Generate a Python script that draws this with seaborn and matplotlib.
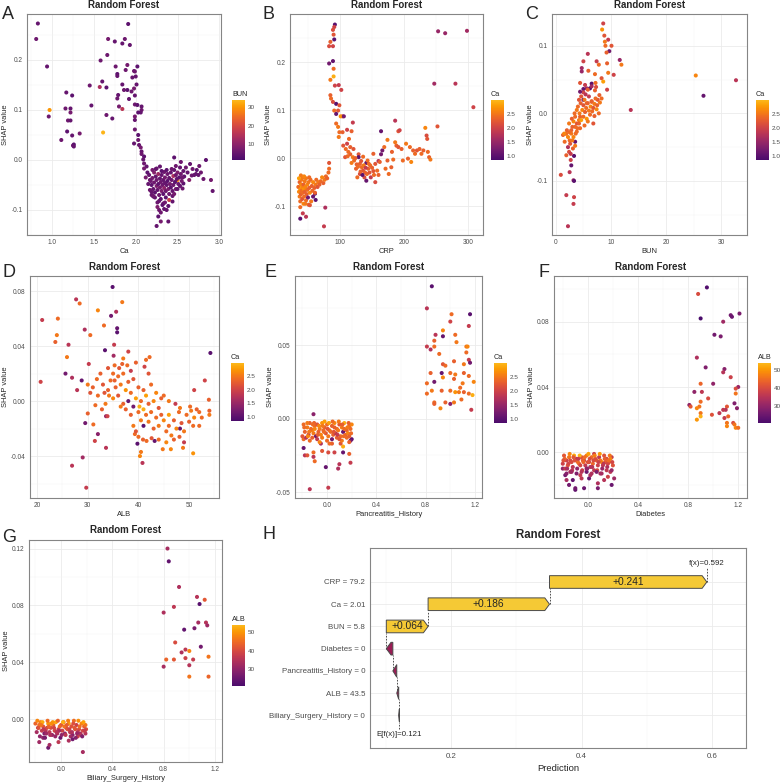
import numpy as np
import pandas as pd
import matplotlib
matplotlib.use('Agg')
import matplotlib.pyplot as plt
import seaborn as sns
from matplotlib.colors import LinearSegmentedColormap, Normalize
from matplotlib.ticker import FixedLocator, AutoMinorLocator, FormatStrFormatter
from matplotlib.patches import Polygon
from matplotlib.cm import ScalarMappable

sns.set_style('white')
plt.rcParams['font.family'] = ['Liberation Sans', 'DejaVu Sans']
plt.rcParams['axes.unicode_minus'] = False

# ---------------- Panel A : Ca vs SHAP, colour BUN ----------------
a_ca = [
0.83,0.81,0.94,0.97,0.96,1.17,1.24,1.16,1.22,1.22,
1.19,1.22,1.18,1.11,1.24,1.33,1.25,1.26,1.26,1.45,
1.47,1.58,1.57,1.60,1.65,1.61,1.65,1.72,1.67,1.66,
1.75,1.76,1.78,1.78,1.78,1.79,1.80,1.84,1.84,1.87,
1.91,1.93,1.88,1.90,1.84,1.86,1.90,1.92,1.95,1.96,
1.98,2.00,2.02,1.99,2.01,1.98,1.99,1.99,2.02,2.07,
2.07,2.06,1.99,2.03,1.99,1.99,1.98,2.03,2.03,2.04,
2.06,2.07,2.07,2.10,2.09,2.10,2.13,2.10,2.25,2.29,
2.46,2.54,2.50,2.65,2.76,2.84,2.90,2.92,2.81,2.72,
2.67,2.75,2.57,2.56,2.25,2.30,2.39,2.28,2.27,2.37,
2.33,2.44,2.21,2.17,2.19,
2.16,2.18,2.19,2.20,2.21,2.22,2.22,2.23,2.24,2.25,
2.25,2.26,2.27,2.27,2.28,2.29,2.29,2.30,2.30,2.31,
2.31,2.32,2.33,2.33,2.34,2.34,2.35,2.35,2.36,2.36,
2.37,2.38,2.38,2.39,2.40,2.40,2.41,2.42,2.42,2.43,
2.44,2.45,2.45,2.46,2.47,2.48,2.48,2.49,2.50,2.51,
2.52,2.53,2.54,2.55,2.57,2.58,2.60,2.62,2.64,2.68,
2.70,2.73,2.78,2.20,2.23,2.26,2.32,2.28,2.35,2.40,
2.44,2.17,2.14,2.12,2.19,2.21,2.24,2.37,2.43,2.50,
2.46,2.53,2.56,2.39,2.34,2.30,2.26,2.15,2.31,2.48]
a_shap = [
0.273,0.242,0.187,0.100,0.087,0.135,0.129,0.103,0.103,0.095,
0.079,0.079,0.057,0.040,0.049,0.053,0.029,0.031,0.027,0.149,
0.109,0.199,0.146,0.157,0.145,0.055,0.090,0.083,0.242,0.210,
0.237,0.187,0.172,0.168,0.123,0.130,0.107,0.102,0.233,0.242,
0.272,0.230,0.180,0.190,0.151,0.140,0.140,0.122,0.137,0.165,
0.178,0.167,0.187,0.177,0.151,0.143,0.129,0.111,0.110,0.107,
0.100,0.095,0.087,0.095,0.080,0.061,0.033,0.050,0.040,0.030,
0.025,0.017,0.012,0.007,0.001,-0.007,-0.013,-0.017,-0.017,-0.013,
0.005,-0.004,-0.040,-0.008,-0.012,0.000,-0.040,-0.062,-0.038,-0.028,
-0.031,-0.030,-0.047,-0.057,-0.132,-0.123,-0.123,-0.100,-0.113,-0.100,
-0.087,-0.083,-0.073,-0.060,-0.070,
-0.030,-0.042,-0.050,-0.036,-0.058,-0.025,-0.045,-0.065,-0.033,-0.052,
-0.040,-0.060,-0.028,-0.048,-0.070,-0.037,-0.055,-0.044,-0.078,-0.030,
-0.062,-0.050,-0.040,-0.068,-0.024,-0.056,-0.046,-0.035,-0.075,-0.062,
-0.050,-0.028,-0.042,-0.058,-0.036,-0.068,-0.048,-0.025,-0.055,-0.040,
-0.062,-0.032,-0.050,-0.020,-0.044,-0.058,-0.030,-0.038,-0.025,-0.048,
-0.035,-0.015,-0.028,-0.042,-0.022,-0.033,-0.015,-0.025,-0.040,-0.018,
-0.030,-0.020,-0.025,-0.020,-0.075,-0.085,-0.090,-0.082,-0.085,-0.080,
-0.072,-0.040,-0.025,-0.035,-0.064,-0.072,-0.018,-0.020,-0.018,-0.058,
-0.068,-0.052,-0.035,-0.092,-0.098,-0.105,-0.094,-0.048,-0.022,-0.012]
a_bun = [
5,6,5,30,6,5,4,6,5,7,
6,5,4,6,5,7,6,4,5,6,
5,6,14,5,4,33,6,5,7,6,
5,6,4,5,6,5,7,16,5,6,
4,5,6,7,5,6,4,5,6,5,
6,5,4,6,5,7,5,6,4,5,
6,5,7,4,5,6,5,4,6,5,
7,5,6,4,5,6,5,7,6,5,
4,6,28,5,6,4,7,5,6,5,
6,5,4,6,5,7,5,6,4,5,
6,5,4,6,5,
5,6,4,7,5,9,6,4,5,8,
6,5,12,4,6,5,7,6,4,5,
8,6,5,4,6,10,5,7,4,6,
5,6,4,8,5,6,7,5,4,6,
5,14,6,5,4,7,6,5,8,6,
4,5,6,7,5,4,6,5,9,6,
5,4,6,7,5,6,4,5,6,18,
5,6,4,7,5,6,5,4,6,5,
7,5,6,4,5,6,8,5,4,6]

# ---------------- Panel B : CRP vs SHAP, colour Ca ----------------
b_crp = [
38,42,47,51,61,62,77,75,83,83,
92,91,89,90,91,85,83,89,89,83,
90,90,85,92,98,102,85,86,89,94,
99,91,97,94,104,101,106,94,97,99,
104,98,111,118,120,114,105,111,109,116,
121,136,129,129,131,134,136,141,144,142,
138,141,147,152,155,155,158,160,164,164,
162,166,169,174,174,176,180,183,186,188,
191,193,198,203,206,209,211,214,217,220,
224,227,230,233,235,236,237,239,241,252,
247,253,264,280,298,308,160,171,152,126,
122,120,116,113,108,125,131,127,181,186,
191,196,128,133,137,139,143,146,148,135,
132,140,145,150,153,124,118,112,
35,36,37,37,38,38,39,39,40,40,
41,41,42,42,43,43,44,44,45,45,
46,47,47,48,49,49,50,51,52,53,
54,55,56,57,58,60,62,63,65,66,
68,70,72,74,76,78,80,82,36,39,
44,52,58,61,46,53,38]
b_shap = [
-0.126,-0.115,-0.122,-0.097,-0.074,-0.087,-0.103,-0.142,-0.010,-0.022,
0.278,0.273,0.267,0.257,0.247,0.242,0.233,0.233,0.202,0.197,
0.186,0.170,0.163,0.151,0.152,0.142,0.131,0.124,0.117,0.113,
0.110,0.099,0.099,0.092,0.087,0.087,0.087,0.072,0.065,0.054,
0.054,0.044,0.059,0.056,0.074,0.040,0.026,0.030,0.019,0.023,
0.019,0.003,0.008,0.002,-0.012,-0.019,-0.026,-0.010,-0.022,-0.033,
-0.040,-0.047,-0.015,0.009,-0.012,-0.050,-0.026,-0.006,0.056,0.008,
-0.008,0.016,0.023,0.038,-0.005,-0.033,-0.019,-0.003,0.078,0.026,
0.056,0.058,-0.005,0.030,-0.001,0.023,-0.008,0.016,0.009,0.016,
0.019,0.009,0.016,0.063,0.047,0.040,0.013,0.002,-0.003,0.066,
0.155,0.264,0.260,0.155,0.265,0.106,-0.035,-0.022,-0.027,-0.013,
-0.005,0.002,0.008,0.013,0.002,-0.022,-0.033,-0.040,0.013,0.033,
0.023,0.019,-0.018,-0.006,-0.015,-0.030,-0.005,-0.030,-0.040,-0.035,
-0.028,-0.020,-0.012,-0.020,-0.035,0.000,-0.010,0.004,
-0.060,-0.070,-0.050,-0.080,-0.065,-0.090,-0.055,-0.075,-0.045,-0.068,
-0.085,-0.060,-0.040,-0.072,-0.095,-0.055,-0.065,-0.080,-0.048,-0.070,
-0.060,-0.088,-0.042,-0.075,-0.055,-0.066,-0.082,-0.050,-0.062,-0.072,
-0.045,-0.090,-0.058,-0.068,-0.050,-0.062,-0.055,-0.045,-0.060,-0.050,
-0.055,-0.048,-0.040,-0.052,-0.045,-0.038,-0.042,-0.030,-0.042,-0.036,
-0.038,-0.040,-0.080,-0.072,-0.095,-0.098,-0.102]
b_ca = [
1.0,1.9,1.8,2.3,1.1,1.0,1.7,1.9,2.2,2.4,
1.0,2.0,2.1,2.2,1.0,2.3,2.1,2.0,1.1,1.2,
2.4,2.9,2.5,2.0,1.9,2.0,2.3,2.4,2.1,1.0,
2.2,2.4,2.2,1.1,2.0,2.7,1.2,2.4,2.5,2.4,
2.3,2.5,2.0,2.3,1.9,2.4,2.2,2.0,2.4,2.3,
2.2,2.4,2.2,1.0,2.3,2.4,2.2,1.1,2.3,2.4,
2.1,1.1,2.4,2.3,2.2,2.1,2.4,1.8,1.1,1.2,
2.3,1.2,2.4,2.5,2.3,2.4,2.3,2.4,1.8,2.3,
2.2,2.0,2.4,2.5,2.3,2.4,2.6,2.3,2.4,2.2,
2.3,2.4,2.3,2.6,2.1,2.2,2.4,2.3,2.5,2.2,
1.6,1.5,1.5,1.8,1.6,2.0,2.3,2.4,2.2,2.3,
2.4,2.5,2.3,2.4,2.2,2.3,2.1,2.4,2.3,2.5,
2.2,2.3,2.4,2.2,2.5,2.3,2.4,2.2,1.9,1.0,
2.3,1.9,2.4,2.3,2.4,2.3,2.5,2.4,
2.4,2.6,2.3,2.5,2.7,2.4,2.6,2.3,2.5,2.4,
2.2,2.6,2.5,2.4,2.6,2.3,2.7,2.4,2.5,2.3,
2.6,2.4,2.5,2.3,2.6,2.4,1.2,2.5,2.3,2.6,
2.4,2.5,2.3,2.4,2.6,2.3,2.5,2.4,2.2,2.5,
2.3,2.4,2.6,2.3,2.5,2.4,2.3,2.4,2.8,2.5,
2.6,2.4,1.1,2.3,2.5,2.2,2.4]

# ---------------- Panel C : BUN vs SHAP, colour Ca ----------------
c_bun = [
0.9,1.9,2.2,3.2,3.3,3.2,3.3,2.5,2.8,3.3,
2.7,2.4,2.2,1.9,1.6,1.3,1.9,2.5,3.2,2.8,
3.5,3.8,4.2,4.4,3.8,3.5,4.4,8.6,8.4,8.8,
9.5,8.9,10.1,9.0,9.7,9.2,11.6,11.9,5.8,5.0,
7.4,7.8,9.3,4.7,4.7,5.9,7.1,9.5,10.5,8.3,
8.6,4.4,5.3,6.5,5.6,5.0,6.2,7.3,7.1,5.0,
7.9,9.3,4.2,5.0,5.6,6.5,7.6,8.3,13.6,25.4,
26.8,32.7,
4.0,4.3,4.5,4.8,5.0,5.0,5.2,5.3,5.5,5.6,
5.8,6.0,6.0,6.2,6.3,6.5,6.6,6.8,7.0,7.0,
7.2,7.4,7.5,7.8,8.0,5.4,4.6,3.8,3.5,3.2,
3.0,2.8,2.5,2.2,2.0,3.6,3.0,2.6,1.8,1.5,
4.2,4.6,3.4,2.4,2.9,3.9,5.8,6.8,5.2,4.4,
5.8,6.5,7.2,3.1,2.7,3.5]
c_shap = [
-0.091,-0.121,-0.167,-0.134,-0.124,-0.099,-0.100,-0.087,-0.077,-0.063,
-0.069,-0.057,-0.050,-0.062,-0.042,-0.032,-0.030,-0.040,-0.035,-0.025,
-0.020,-0.015,-0.010,-0.005,-0.027,-0.042,-0.022,0.133,0.124,0.115,
0.109,0.106,0.100,0.100,0.092,0.090,0.079,0.072,0.088,0.077,
0.077,0.072,0.074,0.067,0.062,0.063,0.058,0.060,0.057,0.052,
0.047,0.045,0.042,0.044,0.037,0.036,0.037,0.039,0.034,0.031,
0.027,0.035,0.020,0.020,0.015,0.017,0.020,0.022,0.005,0.056,
0.026,0.049,
0.010,0.000,0.015,0.005,-0.005,0.012,0.020,0.002,0.008,-0.008,
0.015,0.004,0.025,-0.002,0.010,0.018,0.003,0.008,0.014,-0.004,
0.022,0.006,0.012,0.000,0.016,0.028,0.025,0.005,-0.005,-0.012,
-0.020,-0.030,-0.028,-0.035,-0.025,-0.030,-0.040,-0.045,-0.030,-0.030,
-0.015,-0.010,0.000,-0.015,-0.008,-0.022,-0.012,-0.015,-0.018,0.032,
0.035,0.040,0.045,-0.052,-0.060,-0.048]
c_ca = [
2.1,1.9,1.8,1.9,2.0,1.6,1.0,1.8,1.1,1.0,
2.0,2.1,1.7,2.3,2.4,2.3,2.5,2.4,2.6,2.3,
2.4,2.2,2.5,2.3,2.4,1.1,2.4,2.0,2.7,2.2,
1.9,2.5,2.2,2.4,1.2,2.3,1.5,2.5,1.8,2.0,
1.9,2.4,2.3,1.6,1.5,2.3,2.4,2.5,2.0,2.2,
2.8,2.2,1.9,1.0,1.6,1.1,1.0,2.1,2.3,2.0,
2.3,2.0,2.2,1.1,2.4,2.3,2.2,2.4,1.8,2.6,
1.1,1.8,
2.4,2.5,2.3,2.6,2.4,2.2,2.5,2.3,2.4,2.7,
2.3,2.5,1.9,2.4,2.6,2.3,2.4,2.2,2.5,2.3,
2.4,2.6,2.3,2.4,2.5,1.8,2.2,2.5,2.4,2.6,
2.3,2.5,2.4,2.6,2.3,2.4,2.5,2.2,2.4,2.6,
2.3,2.8,2.4,2.5,2.3,2.4,2.5,2.2,2.4,1.2,
2.3,1.6,2.4,2.3,1.9,2.5]

# ---------------- Panel D : ALB vs SHAP, colour Ca ----------------
d_alb = [
34.9,27.7,28.4,36.8,32.0,21.0,24.1,34.6,35.6,33.2,
35.8,35.8,23.9,23.6,26.2,30.5,29.4,35.2,33.4,25.9,
35.1,42.2,37.0,38.0,30.2,35.3,36.8,41.2,25.6,20.7,
26.9,27.9,28.8,53.1,54.2,53.9,54.0,54.0,51.0,
30.0,29.5,31.1,32.0,31.4,33.6,33.9,33.6,26.9,29.0,
29.7,39.8,40.5,40.3,40.8,39.3,40.9,41.6,42.6,43.2,
44.8,46.4,48.8,50.8,49.0,48.1,48.2,47.3,50.8,50.4,
52.0,
31,32,33,33.5,34,34.5,35,35.5,36,36,
36.5,37,37,37.5,38,38,38.5,39,39,39.5,
40,40,40.5,40.5,41,41,41.5,41.5,42,42,
42.5,43,43,43.5,44,44,44.5,45,45.5,46,
46,46.5,47,47.5,48,48.5,49,49.5,50,51,
52,38.5,39,39.5,40,37.5,36.5,35,34,32.5,
31.5,30.5,30,41,42.5,43.5,44.5,45,46,42,
41.5,39.5,38.5,37.8,36.2,35.3,34.2,33.3,31.8,32.8,
44,45.5,47,48.2,50.2,51.5,52.5,40.2]
d_shap = [
0.083,0.074,0.071,0.072,0.066,0.059,0.060,0.062,0.065,0.055,
0.053,0.050,0.048,0.043,0.041,0.048,0.052,0.041,0.037,0.032,
0.033,0.032,0.031,0.036,0.027,0.026,0.027,0.025,0.020,0.014,
0.017,0.008,0.015,0.015,0.035,0.001,-0.007,-0.010,0.008,
-0.009,-0.016,-0.017,-0.024,-0.029,-0.011,-0.011,-0.034,-0.047,-0.041,
-0.063,-0.031,-0.037,-0.040,-0.045,-0.024,-0.028,-0.029,-0.027,-0.029,
-0.035,-0.035,-0.034,-0.038,-0.030,-0.026,-0.020,-0.002,-0.018,-0.007,
-0.008,
0.010,0.004,0.012,-0.002,0.008,0.015,0.002,0.010,0.018,0.004,
0.012,-0.002,0.020,0.008,0.014,0.000,0.006,0.016,-0.004,0.002,
-0.008,0.010,-0.014,0.000,-0.006,-0.018,-0.010,0.004,-0.002,-0.015,
-0.008,-0.020,0.000,-0.012,-0.005,-0.018,-0.010,-0.014,-0.022,-0.010,
-0.018,-0.025,-0.014,-0.020,-0.008,-0.016,-0.022,-0.010,-0.015,-0.012,
-0.018,-0.010,-0.018,-0.022,-0.026,-0.006,-0.004,0.020,0.024,0.020,
-0.003,0.006,0.012,0.008,0.012,0.006,0.002,0.004,0.000,0.020,
0.030,0.028,0.022,0.026,0.024,0.015,0.004,0.006,0.016,-0.006,
-0.028,-0.030,-0.028,-0.005,-0.004,-0.006,-0.012,-0.004]
d_ca = [
1.0,1.8,2.4,2.5,2.6,1.9,2.4,1.2,1.7,2.4,
1.1,1.0,2.5,2.3,1.8,2.4,1.7,1.9,1.0,2.5,
1.6,2.4,2.5,2.0,1.9,2.4,2.3,2.0,1.2,2.0,
1.7,1.8,1.1,2.0,1.0,2.3,2.3,2.5,2.0,
2.3,1.2,2.4,1.4,2.0,1.5,2.0,1.8,1.8,1.6,
1.9,1.0,2.5,2.6,1.8,2.4,2.3,2.4,2.2,1.1,
2.5,2.6,2.5,2.7,1.9,2.3,1.1,1.9,2.4,2.5,
2.4,
2.3,2.4,2.2,2.5,2.3,2.4,2.6,2.3,2.4,2.2,
2.5,2.3,2.4,2.7,2.3,1.1,2.4,2.2,1.2,2.8,
2.4,2.3,2.5,2.4,2.9,1.0,2.4,2.8,2.3,2.5,
2.4,2.3,2.6,2.4,2.2,2.5,2.3,2.6,2.4,2.8,
2.4,2.5,2.3,2.6,2.4,2.2,2.5,2.4,2.3,2.6,
2.4,2.3,2.5,2.2,2.4,2.3,2.5,2.4,2.2,2.3,
2.4,2.2,2.5,2.3,2.4,2.6,2.3,2.4,2.5,2.2,
2.4,2.3,1.9,2.4,2.2,2.3,2.5,2.2,2.4,2.3,
2.4,2.6,2.3,2.5,2.4,2.3,2.4,2.9]

# ---------------- Panel E : Pancreatitis_History (jittered) vs SHAP, colour Ca ----------------
e_x = [
0.85,0.81,1.01,1.16,1.15,0.94,1.00,0.94,0.88,1.04,
0.87,1.05,0.81,0.84,0.87,1.13,1.14,0.91,1.13,1.03,
1.15,1.16,0.94,0.96,1.11,0.84,0.93,1.00,1.04,1.11,
0.87,0.81,0.94,1.03,1.15,1.10,1.19,0.81,0.85,0.93,
1.00,1.04,1.07,1.11,1.15,1.18,0.87,0.96,1.00,1.03,
1.09,0.92,1.17,0.87,1.08,
-0.11,-0.14,0.01,-0.01,0.09,0.10,0.19,-0.10,-0.11,-0.18,
-0.16,-0.19,-0.11,-0.04,0.01,0.06,0.13,0.13,0.18,0.20,
0.19,0.04,-0.05,-0.19,0.11,
-0.19,-0.16,-0.14,-0.12,-0.10,-0.08,-0.06,-0.04,-0.02,0.00,
0.02,0.04,0.06,0.08,0.10,0.12,0.14,0.16,0.18,0.20,
-0.18,-0.15,-0.13,-0.11,-0.09,-0.07,-0.05,-0.03,-0.01,0.01,
0.03,0.05,0.07,0.09,0.11,0.13,0.15,0.17,0.19,-0.20,
-0.17,-0.14,-0.12,-0.08,-0.04,0.00,0.04,0.08,0.12,0.16,
0.18,-0.06,0.02,0.10,-0.16,-0.02,0.06,0.14,-0.10,0.18,
-0.185,-0.145,-0.105,-0.065,-0.025,0.015,0.055,0.095,0.135,0.175,
-0.155,-0.115,-0.075,-0.035,0.005,0.045,0.085,0.125,0.165,0.195]
e_shap = [
0.090,0.075,0.071,0.071,0.063,0.060,0.066,0.056,0.057,0.057,
0.053,0.052,0.049,0.047,0.049,0.049,0.049,0.044,0.045,0.039,
0.040,0.038,0.037,0.036,0.037,0.031,0.031,0.031,0.030,0.031,
0.025,0.024,0.028,0.027,0.029,0.024,0.025,0.017,0.019,0.019,
0.019,0.018,0.018,0.018,0.017,0.016,0.011,0.011,0.010,0.011,
0.013,0.007,0.006,0.010,0.021,
0.003,-0.048,-0.047,-0.033,-0.034,-0.031,-0.030,-0.029,-0.026,-0.025,
-0.025,-0.020,-0.023,-0.022,-0.023,-0.023,-0.023,-0.019,-0.024,-0.014,
-0.015,-0.017,-0.017,-0.014,-0.017,
-0.004,-0.006,-0.003,-0.008,-0.005,-0.004,-0.007,-0.003,-0.006,-0.004,
-0.008,-0.005,-0.003,-0.007,-0.004,-0.006,-0.003,-0.008,-0.005,-0.004,
-0.009,-0.011,-0.007,-0.010,-0.012,-0.009,-0.011,-0.008,-0.010,-0.012,
-0.009,-0.011,-0.010,-0.008,-0.012,-0.009,-0.011,-0.010,-0.007,-0.012,
-0.013,-0.015,-0.013,-0.014,-0.013,-0.015,-0.014,-0.013,-0.015,-0.013,
-0.016,-0.016,-0.017,-0.014,-0.003,-0.002,-0.006,-0.007,-0.007,-0.012,
-0.006,-0.009,-0.003,-0.005,-0.009,-0.003,-0.009,-0.002,-0.012,-0.003,
-0.012,-0.004,-0.011,-0.005,-0.007,-0.002,-0.011,-0.004,-0.006,-0.010]
e_ca = [
1.0,1.8,2.4,1.0,1.9,2.6,2.0,1.1,1.8,2.4,
2.3,2.5,1.9,1.7,2.4,2.5,2.6,2.4,2.4,2.3,
1.9,1.2,2.2,2.4,2.5,2.3,1.1,2.4,2.5,2.3,
1.2,2.4,2.6,2.3,2.4,2.5,2.6,2.4,2.5,2.3,
2.4,2.7,2.5,2.3,2.4,2.9,2.4,2.3,1.4,2.5,
2.4,2.6,1.9,2.3,2.4,
1.4,1.8,1.9,1.1,1.7,1.8,1.9,2.4,1.8,1.8,
2.2,1.1,2.4,2.2,2.1,2.0,1.1,2.9,2.3,1.0,
1.2,2.3,1.7,2.4,2.2,
2.4,2.5,2.3,2.6,2.4,2.2,2.5,2.7,2.3,2.4,
2.5,2.3,2.6,2.4,2.2,2.5,2.9,2.3,2.4,2.6,
2.3,1.9,2.4,2.5,1.2,2.3,2.6,2.4,2.2,2.5,
2.4,2.3,1.8,2.5,2.4,1.1,2.3,2.6,2.4,2.2,
1.8,2.4,2.3,1.9,2.5,2.4,1.2,2.3,2.5,2.4,
2.3,2.6,2.4,2.2,2.5,2.8,2.3,2.4,2.6,2.3,
2.4,2.5,2.3,2.6,2.4,2.8,2.2,2.5,2.4,2.3,
2.6,2.4,2.3,2.5,2.2,2.4,1.9,2.3,2.5,2.4]

# ---------------- Panel F : Diabetes (jittered) vs SHAP, colour ALB ----------------
f_x = [
0.95,0.88,0.90,1.08,1.14,1.15,1.21,1.01,1.06,0.87,
0.94,1.09,1.08,1.14,0.90,1.00,0.85,0.91,0.96,1.20,
1.18,1.18,0.90,0.89,0.81,0.82,0.87,1.17,1.11,1.10,
1.08,1.19,0.90,0.99,1.05,1.12,0.87,0.90,1.09,1.11,
1.11,1.16,1.17,1.18,1.20,
-0.10,-0.10,-0.03,0.08,-0.15,0.19,0.08,-0.12,-0.17,-0.05,
0.01,0.13,0.21,0.16,-0.18,0.02,-0.06,0.10,0.18,-0.14,
-0.20,-0.01,0.05,
-0.19,-0.17,-0.15,-0.13,-0.11,-0.09,-0.07,-0.05,-0.03,-0.01,
0.01,0.03,0.05,0.07,0.09,0.11,0.13,0.15,0.17,0.19,
-0.20,-0.16,-0.14,-0.12,-0.08,-0.06,-0.04,-0.02,0.00,0.02,
0.04,0.06,0.08,0.10,0.12,0.14,0.16,0.18,0.20,-0.18,
-0.165,-0.125,-0.085,-0.045,-0.005,0.035,0.075,0.115,0.155,0.195,
-0.185,-0.145,-0.105,-0.065,-0.025,0.015,0.055,0.095,0.135,0.175,
-0.155,-0.115,-0.075,-0.035,0.005,0.045,0.085,0.125,0.165,-0.195,
-0.13,-0.09,-0.05,-0.01,0.03,0.07,0.11,0.15,-0.17,0.19]
f_shap = [
0.101,0.097,0.082,0.080,0.084,0.083,0.085,0.072,0.071,0.058,
0.052,0.051,0.049,0.046,0.042,0.042,0.037,0.037,0.033,0.040,
0.039,0.036,0.031,0.028,0.029,0.028,0.027,0.030,0.028,0.026,
0.026,0.027,0.024,0.023,0.024,0.022,0.020,0.022,0.021,0.018,
0.016,0.018,0.017,0.015,0.015,
-0.023,-0.022,-0.022,-0.022,-0.020,-0.020,-0.019,-0.017,-0.017,-0.016,
-0.016,-0.017,-0.016,-0.015,-0.014,-0.014,-0.014,-0.013,-0.012,-0.012,
-0.010,-0.012,-0.011,
-0.002,-0.005,-0.003,-0.006,-0.002,-0.004,-0.007,-0.003,-0.005,-0.002,
-0.006,-0.003,-0.001,-0.005,-0.003,-0.006,-0.002,-0.004,-0.006,-0.003,
-0.007,-0.008,-0.005,-0.009,-0.006,-0.008,-0.005,-0.008,-0.006,-0.009,
-0.007,-0.004,-0.008,-0.005,-0.008,-0.006,-0.007,-0.004,-0.008,-0.010,
-0.010,-0.011,-0.010,-0.011,-0.010,-0.009,-0.011,-0.010,-0.009,-0.006,
-0.004,-0.001,-0.005,-0.002,-0.003,-0.004,-0.002,-0.001,-0.004,-0.002,
-0.007,-0.003,-0.004,-0.006,-0.001,-0.005,-0.006,-0.007,-0.005,-0.005,
-0.012,-0.013,-0.012,-0.010,-0.013,-0.012,-0.013,-0.011,-0.013,-0.011]
f_alb = [
22,40,21,32,26,25,27,26,27,34,
28,29,35,38,44,30,30,36,40,31,
40,46,45,46,30,42,48,28,42,35,
36,29,46,41,36,44,50,53,37,46,
48,40,46,48,45,
24,26,25,27,26,25,34,24,33,36,
25,35,32,38,26,34,37,33,36,34,
30,25,36,
42,38,46,40,52,36,44,41,39,47,
40,45,38,43,36,49,41,39,44,37,
38,42,40,36,45,39,43,37,41,35,
44,40,38,46,36,42,39,48,41,37,
33,36,30,38,29,35,40,31,34,39,
44,48,41,53,45,40,47,50,43,46,
39,42,37,44,51,40,38,36,45,41,
32,28,35,30,34,27,33,36,29,31]

# ---------------- Panel G : Biliary_Surgery_History (jittered) vs SHAP, colour ALB ----------------
g_x = [
0.83,0.84,0.92,1.06,1.12,0.88,1.08,0.80,1.07,1.13,
1.14,0.96,1.04,0.89,0.97,1.00,1.09,0.94,0.82,0.88,
0.97,1.03,1.15,0.80,1.00,1.00,1.15,
0.17,-0.17,-0.10,-0.09,-0.14,-0.02,0.06,0.13,0.19,
-0.20,-0.18,-0.16,-0.14,-0.12,-0.10,-0.08,-0.06,-0.04,-0.02,
0.00,0.02,0.04,0.06,0.08,0.10,0.12,0.14,0.16,0.18,
-0.19,-0.17,-0.15,-0.13,-0.11,-0.09,-0.07,-0.05,-0.03,-0.01,
0.01,0.03,0.05,0.07,0.09,0.11,0.13,0.15,0.17,0.19,
-0.185,-0.145,-0.105,-0.065,-0.025,0.015,0.055,0.095,0.135,0.175,
-0.165,-0.125,-0.085,-0.045,-0.005,0.035,0.075,0.115,0.155,0.195,
-0.175,-0.135,-0.095,-0.055,-0.015,0.025,0.065,0.105,0.145,0.185,
-0.155,-0.115,-0.075,-0.035,0.005,0.045,0.085,0.125,0.165,0.09]
g_shap = [
0.120,0.111,0.093,0.086,0.084,0.079,0.081,0.075,0.068,0.068,
0.066,0.063,0.064,0.054,0.049,0.048,0.051,0.047,0.042,0.042,
0.043,0.042,0.044,0.037,0.038,0.030,0.030,
-0.023,-0.016,-0.020,-0.018,-0.013,-0.016,-0.015,-0.012,-0.010,
-0.003,-0.006,-0.002,-0.005,-0.008,-0.003,-0.006,-0.004,-0.002,-0.007,
-0.004,-0.002,-0.006,-0.003,-0.005,-0.001,-0.004,-0.007,-0.003,-0.005,
-0.009,-0.004,-0.008,-0.010,-0.006,-0.009,-0.011,-0.008,-0.010,-0.005,
-0.008,-0.010,-0.007,-0.009,-0.011,-0.007,-0.009,-0.010,-0.008,-0.004,
-0.001,-0.002,-0.001,-0.002,-0.001,-0.002,-0.001,-0.003,-0.001,-0.002,
-0.012,-0.013,-0.011,-0.012,-0.013,-0.011,-0.012,-0.013,-0.011,-0.007,
-0.006,-0.007,-0.005,-0.006,-0.008,-0.005,-0.007,-0.006,-0.005,-0.008,
-0.004,-0.010,-0.003,-0.009,-0.011,-0.004,-0.009,-0.010,-0.012,-0.014]
g_alb = [
33,24,34,35,42,36,23,34,33,35,
32,24,27,40,36,48,26,34,44,42,
38,37,46,33,35,46,44,
33,32,26,33,30,36,34,38,35,
44,38,47,41,35,50,40,43,52,37,
42,46,39,51,41,45,38,40,48,43,
33,45,37,28,40,36,31,39,34,44,
38,30,42,36,29,41,35,33,39,46,
48,52,45,50,44,53,47,41,49,51,
30,27,34,31,25,36,32,29,35,40,
41,36,44,39,33,46,38,42,45,37,
46,32,49,35,30,43,34,31,28,26]

# ---------------- Panel H : waterfall ----------------
h_features = ['Biliary_Surgery_History = 0', 'ALB = 43.5', 'Pancreatitis_History = 0',
              'Diabetes = 0', 'BUN = 5.8', 'Ca = 2.01', 'CRP = 79.2']
h_contrib = [-0.001, -0.003, -0.006, -0.010, 0.064, 0.186, 0.241]
h_base = 0.121

# ================= drawing =================
W = 782.0
fig = plt.figure(figsize=(7.82, 7.82), dpi=100)
fig.patch.set_facecolor('white')

def rect(x0, y0, x1, y1):
    return [x0 / W, 1 - y1 / W, (x1 - x0) / W, (y1 - y0) / W]

inf = plt.get_cmap('inferno')
cmap = LinearSegmentedColormap.from_list('inf_cut', inf(np.linspace(0.22, 0.84, 256)))

TICK_C = '#4D4D4D'
BORDER_C = '#858585'

def style(ax, xticks, yticks, xfmt, yfmt, xlim, ylim, minor=True):
    ax.set_xlim(xlim)
    ax.set_ylim(ylim)
    ax.xaxis.set_major_locator(FixedLocator(xticks))
    ax.yaxis.set_major_locator(FixedLocator(yticks))
    if xfmt:
        ax.xaxis.set_major_formatter(FormatStrFormatter(xfmt))
    if yfmt:
        ax.yaxis.set_major_formatter(FormatStrFormatter(yfmt))
    if minor:
        ax.xaxis.set_minor_locator(AutoMinorLocator(2))
        ax.yaxis.set_minor_locator(AutoMinorLocator(2))
        ax.grid(True, which='minor', color='#F3F3F3', linewidth=0.35)
    ax.grid(True, which='major', color='#EBEBEB', linewidth=0.6)
    ax.set_axisbelow(True)
    ax.tick_params(which='minor', length=0)
    ax.tick_params(which='major', length=2, width=0.5, color=TICK_C,
                   labelsize=4.7, labelcolor=TICK_C, pad=1.2)
    for sp in ax.spines.values():
        sp.set_color(BORDER_C)
        sp.set_linewidth(0.8)
        sp.set_visible(True)

def scat(ax, x, y, c, norm):
    n = min(len(x), len(y), len(c))
    df = pd.DataFrame({'x': x[:n], 'y': y[:n], 'c': c[:n]})
    sns.scatterplot(data=df, x='x', y='y', hue='c', palette=cmap, hue_norm=norm,
                    s=8.5, linewidth=0, edgecolor='none', legend=False, ax=ax, zorder=3)

def cbar(px, title, norm, ticks, fmt):
    cax = fig.add_axes(rect(*px))
    cb = fig.colorbar(ScalarMappable(norm=norm, cmap=cmap), cax=cax)
    cb.outline.set_visible(False)
    cb.set_ticks(ticks)
    cb.set_ticklabels([fmt % t for t in ticks])
    cax.minorticks_off()
    cax.tick_params(which='major', length=2.2, width=0.5, color='white', direction='in',
                    left=True, right=True, labelsize=4.6, labelcolor=TICK_C, pad=2)
    fig.text(px[0] / W, 1 - (px[1] - 4) / W, title, fontsize=5.2, ha='left', va='baseline')

def title_letter(panel_px, letter_px, ty):
    x0, y0, x1, y1 = panel_px
    fig.text((x0 + x1) / 2 / W, 1 - ty / W, 'Random Forest', fontsize=7,
             fontweight='bold', ha='center', va='center')
    fig.text(letter_px[0] / W, 1 - letter_px[1] / W, letter_px[2], fontsize=13,
             ha='left', va='top')

norm_bun = Normalize(1.6, 33.6)
norm_ca = Normalize(0.86, 2.98)
norm_alb = Normalize(20.8, 53.8)

panels = [
    dict(px=(27, 14, 221, 235), data=(a_ca, a_shap, a_bun), norm=norm_bun, xl='Ca',
         xt=[1.0, 1.5, 2.0, 2.5, 3.0], yt=[-0.1, 0.0, 0.1, 0.2], xf='%.1f', yf='%.1f',
         xlim=(0.70, 3.02), ylim=(-0.15, 0.292),
         cb=((232, 100, 245, 160), 'BUN', [10, 20, 30], '%d'),
         letter=(2, 6, 'A'), ty=5),
    dict(px=(290, 14, 483, 235), data=(b_crp, b_shap, b_ca), norm=norm_ca, xl='CRP',
         xt=[100, 200, 300], yt=[-0.1, 0.0, 0.1, 0.2], xf='%d', yf='%.1f',
         xlim=(22, 323), ylim=(-0.16, 0.30),
         cb=((491, 100, 504, 160), 'Ca', [1.0, 1.5, 2.0, 2.5], '%.1f'),
         letter=(263, 6, 'B'), ty=5),
    dict(px=(552, 14, 747, 235), data=(c_bun, c_shap, c_ca), norm=norm_ca, xl='BUN',
         xt=[0, 10, 20, 30], yt=[-0.1, 0.0, 0.1], xf='%d', yf='%.1f',
         xlim=(-0.7, 34.7), ylim=(-0.18, 0.147),
         cb=((756, 100, 769, 160), 'Ca', [1.0, 1.5, 2.0, 2.5], '%.1f'),
         letter=(525, 6, 'C'), ty=5),
    dict(px=(30, 276, 219, 498), data=(d_alb, d_shap, d_ca), norm=norm_ca, xl='ALB',
         xt=[20, 30, 40, 50], yt=[-0.04, 0.0, 0.04, 0.08], xf='%d', yf='%.2f',
         xlim=(18.6, 55.9), ylim=(-0.0705, 0.091),
         cb=((231, 363, 244, 421), 'Ca', [1.0, 1.5, 2.0, 2.5], '%.1f'),
         letter=(2, 264, 'D'), ty=267),
    dict(px=(295, 276, 482, 498), data=(e_x, e_shap, e_ca), norm=norm_ca, xl='Pancreatitis_History',
         xt=[0.0, 0.4, 0.8, 1.2], yt=[-0.05, 0.0, 0.05], xf='%.1f', yf='%.2f',
         xlim=(-0.26, 1.257), ylim=(-0.054, 0.097),
         cb=((494, 363, 507, 423), 'Ca', [1.0, 1.5, 2.0, 2.5], '%.1f'),
         letter=(264, 264, 'E'), ty=267),
    dict(px=(554, 276, 747, 498), data=(f_x, f_shap, f_alb), norm=norm_alb, xl='Diabetes',
         xt=[0.0, 0.4, 0.8, 1.2], yt=[0.0, 0.04, 0.08], xf='%.1f', yf='%.2f',
         xlim=(-0.27, 1.27), ylim=(-0.028, 0.108),
         cb=((758, 363, 771, 423), 'ALB', [30, 40, 50], '%d'),
         letter=(538, 264, 'F'), ty=267),
    dict(px=(29, 540, 222, 762), data=(g_x, g_shap, g_alb), norm=norm_alb, xl='Biliary_Surgery_History',
         xt=[0.0, 0.4, 0.8, 1.2], yt=[0.0, 0.04, 0.08, 0.12], xf='%.1f', yf='%.2f',
         xlim=(-0.25, 1.255), ylim=(-0.030, 0.126),
         cb=((232, 625, 245, 686), 'ALB', [30, 40, 50], '%d'),
         letter=(2, 529, 'G'), ty=530),
]

for p in panels:
    ax = fig.add_axes(rect(*p['px']))
    x, y, c = p['data']
    scat(ax, x, y, c, p['norm'])
    style(ax, p['xt'], p['yt'], p['xf'], p['yf'], p['xlim'], p['ylim'])
    ax.set_xlabel(p['xl'], fontsize=5.4, labelpad=0.8)
    ax.set_ylabel('SHAP value', fontsize=5.4, labelpad=1.5)
    cbpx, cbt, cbticks, cbf = p['cb']
    cbar(cbpx, cbt, p['norm'], cbticks, cbf)
    title_letter(p['px'], p['letter'], p['ty'])

# ---- Panel H waterfall ----
hpx = (370, 548, 746, 748)
axh = fig.add_axes(rect(*hpx))
ypos = np.arange(1, len(h_features) + 1)
starts = []
cur = h_base
for v in h_contrib:
    starts.append(cur)
    cur += v
fx = starts[-1] + h_contrib[-1]
hh = 0.285
head = 0.0072
line_kw = dict(color='#333333', linewidth=0.6, linestyle=(0, (2, 1.6)), zorder=2)
for i, (s, v, yv) in enumerate(zip(starts, h_contrib, ypos)):
    e = s + v
    sg = 1 if v >= 0 else -1
    hd = min(head, abs(v))
    pts = [(s, yv - hh), (e - sg * hd, yv - hh), (e, yv), (e - sg * hd, yv + hh), (s, yv + hh)]
    col = '#F5C935' if v >= 0 else '#9A1C55'
    axh.add_patch(Polygon(pts, closed=True, facecolor=col, edgecolor='#4A4A4A',
                          linewidth=0.7, zorder=3))
    if abs(v) > 0.03:
        axh.text((s + e) / 2, yv, '%+.3f' % v, ha='center', va='center', fontsize=7.4, zorder=4)
    if i + 1 < len(h_contrib):
        axh.plot([e, e], [yv, ypos[i + 1] - hh], **line_kw)
axh.plot([fx, fx], [ypos[-1], ypos[-1] + 0.62], **line_kw)
axh.plot([h_base, h_base], [0.38, ypos[0] - hh], **line_kw)
axh.text(fx, ypos[-1] + 0.82, 'f(x)=%.3f' % fx, ha='center', va='center', fontsize=5.7)
axh.text(h_base, 0.16, 'E[f(x)]=%.3f' % h_base, ha='center', va='center', fontsize=5.7)
style(axh, [0.2, 0.4, 0.6], list(ypos), '%.1f', None, (0.076, 0.652), (-0.47, 8.53), minor=False)
axh.xaxis.set_minor_locator(AutoMinorLocator(2))
axh.grid(True, which='minor', axis='x', color='#F3F3F3', linewidth=0.35)
axh.set_yticklabels(h_features)
axh.tick_params(which='major', labelsize=5.7, pad=1.5)
axh.set_xlabel('Prediction', fontsize=6.8, labelpad=3)
fig.text((hpx[0] + hpx[2]) / 2 / W, 1 - 535 / W, 'Random Forest', fontsize=8.3,
         fontweight='bold', ha='center', va='center')
fig.text(263 / W, 1 - 526 / W, 'H', fontsize=13, ha='left', va='top')

fig.savefig('out.png', dpi=100, facecolor='white')
